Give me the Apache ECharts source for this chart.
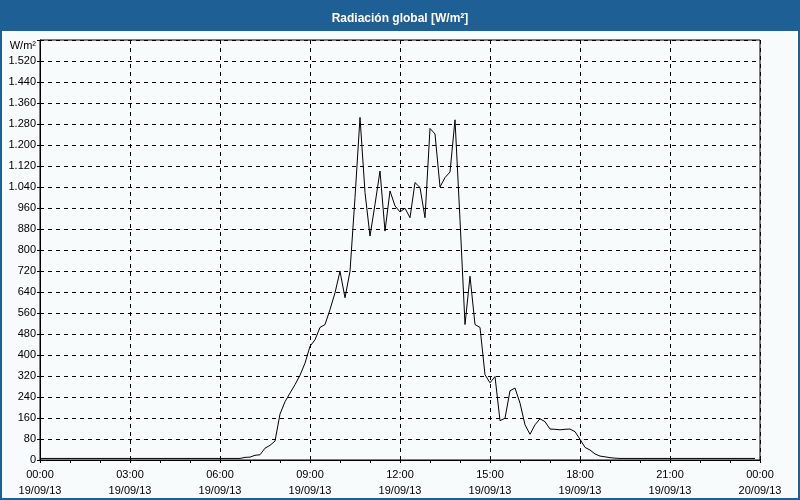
<!DOCTYPE html>
<html>
<head>
<meta charset="utf-8">
<script src="https://cdn.jsdelivr.net/npm/echarts@6/dist/echarts.min.js"></script>
<style>
html,body{margin:0;padding:0;background:#f8fbfb;}
#chart{width:800px;height:500px;}
</style>
</head>
<body>
<div id="chart"></div>
<script>
// Radiation values every 10 minutes, 19/09/13 00:00 .. 23:50 (W/m²)
const radiation = [
  6,6,6,6,6,6, 6,6,6,6,6,6, 6,6,6,6,6,6, 6,6,6,6,6,6,
  6,6,6,6,6,6, 6,6,6,6,6,6, 6,6,6,6,6,10,
  11,18,20,45,56,72, 175,222,255,287,323,369,
  433,458,505,516,573,637, 719,618,719,1000,1305,1019,
  853,974,1101,872,1025,968, 945,959,923,1057,1038,923,
  1263,1242,1040,1076,1097,1296, 915,516,700,516,505,325,
  294,318,150,159,264,274, 217,134,98,134,157,146,
  118,117,115,117,118,108, 79,48,38,23,15,12,
  9,7,6,6,6,6, 6,6,6,6,6,6, 6,6,6,6,6,6,
  6,6,6,6,6,6, 6,6,6,6,6,6
];
const stepMinutes = 10;
const xTickDates = ['19/09/13','19/09/13','19/09/13','19/09/13','19/09/13','19/09/13','19/09/13','19/09/13','20/09/13'];
const titleText = 'Radiación global [W/m²]';
const unitText = 'W/m²';

const seriesData = radiation.map((v, i) => [i * stepMinutes, v]);
function fmtThousands(v){ return String(v).replace(/\B(?=(\d{3})+(?!\d))/g, '.'); }
function pad(n){ return (n < 10 ? '0' : '') + n; }

const chart = echarts.init(document.getElementById('chart'), null, {renderer:'canvas'});
chart.setOption({
  backgroundColor: '#f8fbfb',
  animation: false,
  title: {
    text: titleText, left: 'center', top: 8,
    textStyle: {color:'#ffffff', fontFamily:'Liberation Sans', fontWeight:'bold', fontSize:12}
  },
  graphic: [
    {type:'rect', z:-1, shape:{x:0,y:0,width:800,height:31}, style:{fill:'#1e6096'}},
    {type:'rect', z:-1, shape:{x:1,y:1,width:798,height:498}, style:{fill:null, stroke:'#1e6096', lineWidth:2}}
  ],
  grid: {left:40, right:40, top:40, bottom:40, show:true, borderColor:'#000', borderWidth:1, backgroundColor:'#f8fbfb'},
  xAxis: {
    type:'value', min:0, max:1440, interval:180,
    axisLine:{show:true, lineStyle:{color:'#000'}},
    axisTick:{show:true, length:3, lineStyle:{color:'#000'}},
    minorTick:{show:true, splitNumber:3, length:3, lineStyle:{color:'#000'}},
    splitLine:{show:true, lineStyle:{color:'#000', type:[4,4], width:1}},
    axisLabel:{
      margin:7, color:'#000', fontFamily:'Liberation Sans', fontSize:11, lineHeight:16,
      formatter: function(v){
        const idx = Math.round(v/180);
        const h = Math.floor(v/60) % 24, m = v % 60;
        return pad(h)+':'+pad(m)+'\n'+xTickDates[idx];
      }
    }
  },
  yAxis: {
    type:'value', min:0, max:1600, interval:80,
    axisLine:{show:true, lineStyle:{color:'#000'}},
    axisTick:{show:true, length:3, lineStyle:{color:'#000'}},
    splitLine:{show:true, lineStyle:{color:'#000', type:[4,4], width:1}},
    axisLabel:{
      margin:4, color:'#000', fontFamily:'Liberation Sans', fontSize:11,
      formatter: function(v){ return v === 1600 ? '{u|'+unitText+'}' : fmtThousands(v); },
      rich:{u:{fontFamily:'Liberation Sans', fontSize:11, color:'#000', padding:[12,0,0,0]}}
    }
  },
  series: [{
    type:'line', data: seriesData, showSymbol:false, symbol:'none',
    lineStyle:{color:'#000', width:1}, z:5
  }]
});
</script>
</body>
</html>
